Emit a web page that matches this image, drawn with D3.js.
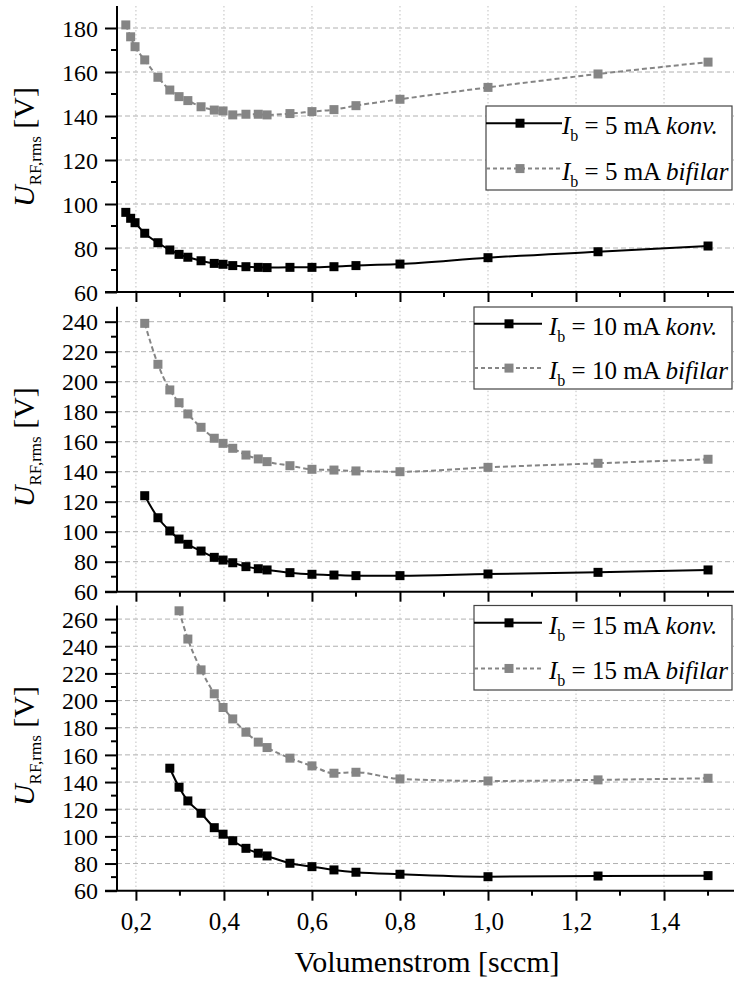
<!DOCTYPE html>
<html><head><meta charset="utf-8">
<script src="https://cdn.jsdelivr.net/npm/d3@7"></script>
<style>body{margin:0;background:#fff}svg{display:block}</style>
</head><body><svg id="c" width="734" height="984"></svg>
<script>
const flow = [0.177,0.188,0.198,0.22,0.25,0.277,0.298,0.318,0.348,0.378,0.398,0.42,0.45,0.478,0.498,0.55,0.6,0.65,0.7,0.8,1.0,1.25,1.5];
const konv5 = [96.2,93.5,91.5,86.7,82.4,79.1,77.1,75.8,74.2,73,72.6,72,71.5,71.2,71.1,71.2,71.2,71.5,72,72.7,75.6,78.3,80.9];
const bif5 = [181.4,176,171.5,165.5,157.6,151.8,148.8,147,144.2,142.7,142.3,140.5,140.8,140.8,140.5,141.1,142,142.9,144.7,147.6,153,159.1,164.5];
const konv10 = [124,109.3,100.5,95.1,91.6,87.1,82.9,81.1,79.3,76.7,75.3,74.5,72.7,71.6,71.1,70.7,70.7,71.8,72.9,74.5];
const bif10 = [238.9,211.6,194.5,186,178.5,169.6,162.3,158.9,155.6,151.1,148.5,146.7,144,141.6,141.1,140.5,140,142.9,145.6,148.3];
const konv15 = [150.2,136.2,126.1,117,106.4,101.6,96.8,91.2,87.6,85.6,80.2,77.7,75.3,73.6,72.1,70.3,70.8,71.1];
const bif15 = [266.1,245.3,222.6,205,194.9,186.5,176.7,169.4,165.4,157.6,151.9,146.5,147.2,142.3,140.8,141.6,142.8];
const currents = ["5","10","15"];
const yDomains = [[60,190],[60,250],[60,270]];
const yTicks = [[60,80,100,120,140,160,180],[60,80,100,120,140,160,180,200,220,240],[60,80,100,120,140,160,180,200,220,240,260]];
const xTicks = [0.2,0.4,0.6,0.8,1.0,1.2,1.4];
const xMinor = [0.3,0.5,0.7,0.9,1.1,1.3,1.5];
const xTitle = "Volumenstrom [sccm]";

const FONT = '"Liberation Serif"';
const svg = d3.select("#c");
const left = 117, right = 734;
const panels = [{top:6,bottom:292},{top:306.7,bottom:591.7},{top:605.5,bottom:890.7}];
const x = d3.scaleLinear().domain([0.157,1.559]).range([left,right]);
const series = [[konv5,bif5],[konv10,bif10],[konv15,bif15]];
const legendPos = [{x0:486,x1:732,y0:106,y1:190,lx1:562,mx:520,tx:562},{x0:474,x1:732,y0:307,y1:389,lx1:542,mx:509,tx:549},{x0:474,x1:732,y0:605.5,y1:690,lx1:542,mx:509,tx:549}];
const gray = "#858585";

panels.forEach((p,i)=>{
  const y = d3.scaleLinear().domain(yDomains[i]).range([p.bottom,p.top]);
  const g = svg.append("g");
  g.selectAll(".hg").data(yTicks[i].slice(1)).join("line")
    .attr("x1",left).attr("x2",right).attr("y1",d=>y(d)).attr("y2",d=>y(d))
    .attr("stroke","#b0b0b0").attr("stroke-width",1).attr("stroke-dasharray","5,3");
  g.selectAll(".vg").data(xTicks).join("line")
    .attr("x1",d=>x(d)).attr("x2",d=>x(d)).attr("y1",p.top).attr("y2",p.bottom)
    .attr("stroke","#c0c0c0").attr("stroke-width",1).attr("stroke-dasharray","1.5,2.5");
  const [k,b] = series[i];
  const mk = vals => vals.map((v,j)=>[flow[flow.length-vals.length+j],v]);
  const line = d3.line().x(d=>x(d[0])).y(d=>y(d[1])).curve(d3.curveMonotoneX);
  const bd = mk(b), kd = mk(k);
  g.append("path").attr("d",line(bd)).attr("fill","none").attr("stroke",gray).attr("stroke-width",2).attr("stroke-dasharray","5,3");
  g.selectAll(".bm").data(bd).join("rect").attr("x",d=>x(d[0])-4.5).attr("y",d=>y(d[1])-4.5).attr("width",9).attr("height",9).attr("fill",gray);
  g.append("path").attr("d",line(kd)).attr("fill","none").attr("stroke","#000").attr("stroke-width",2);
  g.selectAll(".km").data(kd).join("rect").attr("x",d=>x(d[0])-4.5).attr("y",d=>y(d[1])-4.5).attr("width",9).attr("height",9).attr("fill","#000");
  const ya = d3.axisLeft(y).tickValues(yTicks[i]).tickSize(12).tickPadding(7).tickFormat(d3.format("d"));
  const yg = g.append("g").attr("transform",`translate(${left},0)`).call(ya);
  yg.attr("font-family",null).attr("font-size",24);
  yg.select(".domain").attr("stroke-width",2).attr("d",`M0,${p.bottom}V${p.top}`);
  yg.selectAll(".tick line").attr("stroke-width",2);
  yg.selectAll(".tick text").attr("font-size",24).attr("dy","0.34em");
  const yMinor = yTicks[i].slice(0,-1).map(v=>v+10).filter(v=>v<=yDomains[i][1]);
  yg.selectAll(".ym").data(yMinor).join("line").attr("x1",-6).attr("x2",0).attr("y1",d=>y(d)).attr("y2",d=>y(d)).attr("stroke","#000").attr("stroke-width",2);
  const xa = d3.axisBottom(x).tickValues(xTicks).tickSize(10).tickPadding(12).tickFormat(d=>d3.format(".1f")(d).replace(".",","));
  const xg = g.append("g").attr("transform",`translate(0,${p.bottom})`).call(xa);
  xg.attr("font-family",null).attr("font-size",25);
  xg.select(".domain").attr("stroke-width",2).attr("d",`M${left-12},0H${right}`);
  xg.selectAll(".tick line").attr("stroke-width",2);
  xg.selectAll(".tick text").attr("font-size",25);
  if(i<2) xg.selectAll(".tick text").remove();
  xg.selectAll(".xm").data(xMinor).join("line").attr("x1",d=>x(d)).attr("x2",d=>x(d)).attr("y1",0).attr("y2",5).attr("stroke","#000").attr("stroke-width",2);
  const cy = (p.top+p.bottom)/2 - 2;
  const yl = g.append("text").attr("transform",`translate(34,${cy}) rotate(-90)`).attr("text-anchor","middle").attr("font-size",30);
  yl.append("tspan").attr("font-style","italic").text("U");
  yl.append("tspan").attr("font-size",17).attr("dy",7).text("RF,rms");
  yl.append("tspan").attr("dy",-7).text(" [V]");
  const L = legendPos[i];
  const h = L.y1-L.y0;
  g.append("rect").attr("x",L.x0).attr("y",L.y0).attr("width",L.x1-L.x0).attr("height",h).attr("fill","#fff").attr("stroke","#444").attr("stroke-width",1.2);
  const rows = [{name:"konv.",col:"#000",dash:null},{name:"bifilar",col:gray,dash:"4,3"}];
  rows.forEach((r,j)=>{
    const ry = L.y0 + 0.205*h + j*0.54*h;
    g.append("line").attr("x1",L.x0).attr("x2",L.lx1).attr("y1",ry).attr("y2",ry).attr("stroke",r.col).attr("stroke-width",2).attr("stroke-dasharray",r.dash);
    g.append("rect").attr("x",L.mx-4.5).attr("y",ry-4.5).attr("width",9).attr("height",9).attr("fill",r.col);
    const t = g.append("text").attr("x",L.tx).attr("y",ry+11).attr("font-size",25);
    t.append("tspan").attr("font-style","italic").text("I");
    t.append("tspan").attr("font-size",16).attr("dy",7).text("b");
    t.append("tspan").attr("dy",-7).text(` = ${currents[i]} mA `);
    t.append("tspan").attr("font-style","italic").text(r.name);
  });
});
svg.append("text").attr("x",427).attr("y",972).attr("text-anchor","middle").attr("font-size",30).text(xTitle);
svg.selectAll("text").style("font-family",FONT);
</script></body></html>
